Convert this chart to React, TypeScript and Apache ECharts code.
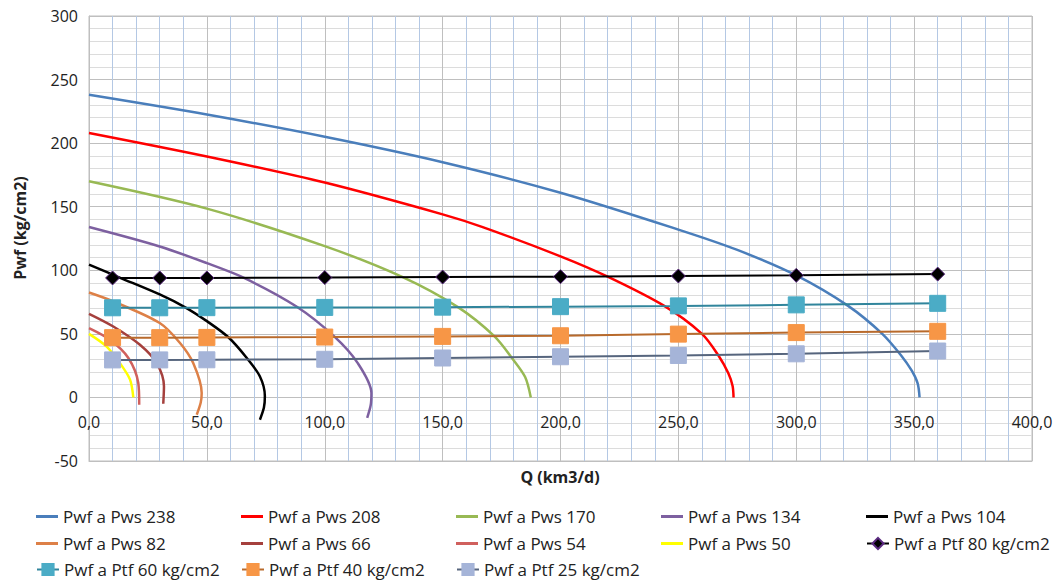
import React, { useEffect, useRef } from "react";
import * as echarts from "echarts";

// Inflow curves (Q in km3/d, Pwf in kg/cm2)
const q238 = [0, 50, 100, 150, 200, 250, 275, 300, 322, 336.5, 344.5, 349, 351.5, 352.3];
const p238 = [238, 222.5, 205, 185, 161, 132, 116, 96, 72, 50, 33, 21, 11, 0];

const q208 = [0, 50, 100, 150, 167, 200, 220, 244, 260, 267, 271.2, 273, 273.4];
const p208 = [208, 189.5, 169, 144, 134, 111, 95, 72, 50, 33, 19, 9, 0];

const q170 = [0, 50, 100, 132.6, 156.5, 172, 179.8, 185, 187.4];
const p170 = [170, 148.5, 119, 95, 71, 48, 30, 16, 0];

const q134 = [0, 30, 50, 66, 88, 104, 114, 119.8, 119.5, 118];
const p134 = [134, 118.7, 105.6, 93.8, 71.5, 48, 27, 3.4, -6, -16];

const q104 = [0, 13, 30, 41, 50, 59, 66.5, 72.5, 74.6, 74.2, 72.5];
const p104 = [104.5, 94.3, 81, 70.7, 60, 47.5, 32, 16.5, 1, -8, -17.5];

const q82 = [0, 10.3, 30, 38.6, 44.2, 47.8, 47.4, 45.7];
const p82 = [82.5, 75.5, 58.5, 42.8, 27, 3.5, -4, -13.6];

const q66 = [0, 10.3, 21.6, 28.7, 31.8, 31.5];
const p66 = [65.8, 55.8, 41.4, 27, 8.7, -5];

const q54 = [0, 8.9, 16.7, 20.9, 21.3];
const p54 = [54.5, 45.3, 31, 11.3, -5.7];

const q50 = [0, 7.5, 13.1, 17.4, 18.8];
const p50 = [50, 40, 27, 14, 0];

// Outflow (tubing) curves
const qPtf = [10, 30, 50, 100, 150, 200, 250, 300, 360];
const ptf80 = [94, 94, 94, 94.3, 94.7, 95, 95.5, 96, 97];
const ptf60 = [70.5, 70.5, 70.6, 70.8, 71, 71.4, 72, 72.8, 74];
const ptf40 = [47, 47, 47.2, 47.5, 48, 48.5, 49.8, 51, 52];
const ptf25 = [29.5, 29.5, 29.6, 30, 31, 32, 33, 34.3, 36.5];

const curveNames = [
  "Pwf a Pws 238", "Pwf a Pws 208", "Pwf a Pws 170", "Pwf a Pws 134", "Pwf a Pws 104",
  "Pwf a Pws 82", "Pwf a Pws 66", "Pwf a Pws 54", "Pwf a Pws 50",
];
const ptfNames = ["Pwf a Ptf 80 kg/cm2", "Pwf a Ptf 60 kg/cm2", "Pwf a Ptf 40 kg/cm2", "Pwf a Ptf 25 kg/cm2"];

const xTicks = { min: 0, max: 400, interval: 50 };
const yTicks = { min: -50, max: 300, interval: 50 };

const zip = (a: number[], b: number[]) => a.map((v, i) => [v, b[i]]);

const FONT = '"Open Sans", sans-serif';

export default function App() {
  const ref = useRef<HTMLDivElement>(null);
  useEffect(() => {
    if (!ref.current) return;
    const chart = echarts.init(ref.current, undefined, { renderer: "svg" });

    const curves = [
      { q: q238, p: p238, c: "#4a7ebb" },
      { q: q208, p: p208, c: "#ff0000" },
      { q: q170, p: p170, c: "#98b954" },
      { q: q134, p: p134, c: "#7d60a0" },
      { q: q104, p: p104, c: "#000000" },
      { q: q82, p: p82, c: "#dd8047" },
      { q: q66, p: p66, c: "#a5403d" },
      { q: q54, p: p54, c: "#d0605d" },
      { q: q50, p: p50, c: "#ffff00" },
    ];
    const curveSeries = curves.map((cv, i) => ({
      name: curveNames[i],
      type: "line",
      data: zip(cv.q, cv.p),
      symbol: "none",
      smooth: 0.3,
      lineStyle: { color: cv.c, width: 2.5 },
      itemStyle: { color: cv.c },
      z: 2,
    }));

    const ptfDefs = [
      { v: ptf80, line: "#000000", mark: "#000000", sym: "diamond", size: 14, border: "#5b2a80" },
      { v: ptf60, line: "#31859c", mark: "#4bacc6", sym: "rect", size: 16, border: "#4bacc6" },
      { v: ptf40, line: "#b86a2c", mark: "#f79646", sym: "rect", size: 16, border: "#f79646" },
      { v: ptf25, line: "#56657d", mark: "#a5b4d8", sym: "rect", size: 16, border: "#a5b4d8" },
    ];
    const ptfSeries = ptfDefs.map((d, i) => ({
      name: ptfNames[i],
      type: "line",
      data: zip(qPtf, d.v),
      symbol: d.sym,
      symbolSize: d.size,
      showSymbol: true,
      lineStyle: { color: d.line, width: 2 },
      itemStyle: { color: d.mark, borderColor: d.border, borderWidth: 1 },
      z: 3,
    }));

    const allNames = [...curveNames, ...ptfNames];
    const colX = [36, 241, 456, 661, 866];
    const rowY = [519, 546, 572];
    const legends = allNames.map((n, i) => {
      const isCurve = i < curveNames.length;
      return {
        data: [n],
        left: colX[i % 5],
        top: rowY[Math.floor(i / 5)] - 11,
        padding: 0,
        itemWidth: 22,
        itemHeight: isCurve ? 3 : 14,
        icon: isCurve ? "rect" : undefined,
        itemGap: 0,
        textStyle: { fontFamily: FONT, fontSize: 17, color: "#222" },
        selectedMode: false,
      };
    });

    chart.setOption({
      animation: false,
      grid: {
        left: 89,
        right: 31,
        top: 16,
        bottom: 122,
        show: true,
        borderColor: "#bfbfbf",
        borderWidth: 1,
      },
      legend: legends,
      xAxis: {
        type: "value",
        min: xTicks.min,
        max: xTicks.max,
        interval: xTicks.interval,
        axisLine: { show: true, onZero: false, lineStyle: { color: "#bfbfbf" } },
        axisTick: { show: false },
        axisLabel: {
          fontFamily: FONT,
          fontSize: 16,
          color: "#222",
          margin: -47,
          formatter: (v: number) => v.toFixed(1).replace(".", ","),
        },
        splitLine: { show: true, lineStyle: { color: "#bfbfbf", width: 1 } },
        minorTick: { show: false, splitNumber: 5 },
        minorSplitLine: { show: true, lineStyle: { color: "#b4c8e4", width: 1 } },
      },
      yAxis: {
        type: "value",
        min: yTicks.min,
        max: yTicks.max,
        interval: yTicks.interval,
        axisLine: { show: true, lineStyle: { color: "#bfbfbf" } },
        axisTick: { show: false },
        axisLabel: { fontFamily: FONT, fontSize: 16, color: "#222", margin: 11 },
        splitLine: { show: true, lineStyle: { color: "#bfbfbf", width: 1 } },
        minorTick: { show: false, splitNumber: 5 },
        minorSplitLine: { show: true, lineStyle: { color: "#dcdcdc", width: 1 } },
      },
      graphic: [
        {
          type: "text",
          x: 20,
          y: 228,
          rotation: Math.PI / 2,
          style: {
            text: "Pwf (kg/cm2)",
            fontFamily: FONT,
            fontSize: 16,
            fontWeight: "bold",
            fill: "#222",
            align: "center",
            verticalAlign: "middle",
          },
        },
        {
          type: "text",
          x: 560,
          y: 477,
          style: {
            text: "Q (km3/d)",
            fontFamily: FONT,
            fontSize: 16,
            fontWeight: "bold",
            fill: "#222",
            align: "center",
            verticalAlign: "middle",
          },
        },
      ],
      series: [...curveSeries, ...ptfSeries],
    });
    return () => chart.dispose();
  }, []);
  return (
    <div
      ref={ref}
      style={{ position: "fixed", left: 0, top: 0, width: 1063, height: 583, background: "#fff" }}
    />
  );
}
